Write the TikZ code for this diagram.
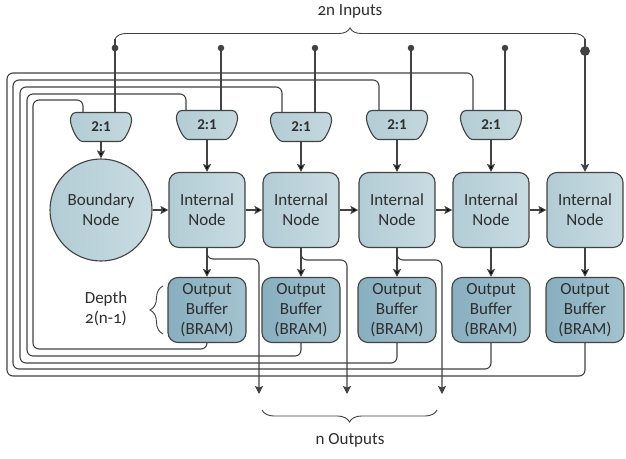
\documentclass[tikz,border=0pt]{standalone}
\usepackage{fontspec}
\setmainfont{Carlito}[Numbers=OldStyle]
\usetikzlibrary{arrows.meta,decorations.pathreplacing}

\pgfdeclarelayer{background}
\pgfsetlayers{background,main}

\definecolor{wiregray}{HTML}{424242}
\definecolor{textgray}{HTML}{2E2E2E}
\definecolor{nodedark}{HTML}{B2CCD5}
\definecolor{nodelight}{HTML}{C9DCE2}
\definecolor{bufdark}{HTML}{88AEBF}
\definecolor{buflight}{HTML}{A4C3CF}
\definecolor{muxdark}{HTML}{B3CCD5}
\definecolor{muxlight}{HTML}{C4D8DE}

\begin{document}
\begin{tikzpicture}[x=1pt,y=-1pt]

      \tikzset{wire/.style={draw=wiregray, line width=1.1pt},
               flow/.style={wire, -{Stealth[length=8pt,width=8pt,inset=1.5pt]}},
               backwire/.style={wire, rounded corners=6pt},
               internal/.style={draw=wiregray, line width=1.1pt, rounded corners=10pt,
                  left color=nodedark, right color=nodelight, text=textgray,
                  minimum width=76pt, minimum height=75pt, align=center,
                  font=\fontsize{17}{20}\selectfont},
               boundary/.style={internal, circle, minimum size=102pt, inner sep=0pt},
               buffer/.style={internal, left color=bufdark, right color=buflight,
                  minimum width=78pt, minimum height=65pt, inner sep=1pt},
               mux/.style={minimum width=60pt, minimum height=29pt, inner sep=0pt, text=textgray,
                  font=\fontsize{15}{17}\bfseries\addfontfeatures{Numbers=Lining}\selectfont},
               muxbody/.pic={\path[draw=wiregray, line width=1.1pt, left color=muxdark, right color=muxlight]
                  (-25,-14.5) -- (25,-14.5)
                  .. controls (29,-14.5) and (31,-10) .. (30.5,-6)
                  .. controls (30,0) and (25,11) .. (21,13.5)
                  .. controls (20,14.3) and (19,14.5) .. (17,14.5)
                  -- (-17,14.5)
                  .. controls (-19,14.5) and (-20,14.3) .. (-21,13.5)
                  .. controls (-25,11) and (-30,0) .. (-30.5,-6)
                  .. controls (-31,-10) and (-29,-14.5) .. (-25,-14.5) -- cycle;},
               indot/.style={circle, fill=wiregray, inner sep=0pt, minimum size=6.5pt},
               bigdot/.style={indot, minimum size=9.5pt},
               curly/.style={wire, line width=0.9pt, decorate, decoration={brace, amplitude=#1}},
               label/.style={text=textgray, align=center, font=\fontsize{17}{20}\selectfont}}

      \useasboundingbox (0,0) rectangle (626,458);

%% Multiplexers
      	\node[mux] (m0) at (101,127) {2:1};
      	\node[mux] (m1) at (207,125) {2:1};
      	\node[mux] (m2) at (301,127) {2:1};
      	\node[mux] (m3) at (397,125) {2:1};
      	\node[mux] (m4) at (491,125) {2:1};
      	\begin{pgfonlayer}{background}
      	  \foreach \m in {m0,m1,m2,m3,m4} \pic at (\m) {muxbody};
      	\end{pgfonlayer}
%% Compute nodes
      	\node[boundary] (bnd) at (101,210) {Boundary\\Node};
      	\node[internal] (n1) at (207,210) {Internal\\Node};
      	\node[internal] (n2) at (301,210) {Internal\\Node};
      	\node[internal] (n3) at (397,210) {Internal\\Node};
      	\node[internal] (n4) at (491,210) {Internal\\Node};
      	\node[internal] (n5) at (585,210) {Internal\\Node};
%% Output buffers
      	\node[buffer] (b1) at (207,310) {Output\\Buffer\\(BRAM)};
      	\node[buffer] (b2) at (301,310) {Output\\Buffer\\(BRAM)};
      	\node[buffer] (b3) at (397,310) {Output\\Buffer\\(BRAM)};
      	\node[buffer] (b4) at (491,310) {Output\\Buffer\\(BRAM)};
      	\node[buffer] (b5) at (585,310) {Output\\Buffer\\(BRAM)};
%% Inputs
      	\node[indot] (i1) at (115,48) {};
      	\node[indot] (i2) at (221,48) {};
      	\node[indot] (i3) at (315,48) {};
      	\node[indot] (i4) at (411,48) {};
      	\node[indot] (i5) at (505,48) {};
      	\node[bigdot] (i6) at (585,51) {};
      	\coordinate (ileft) at (115,39);
      	\coordinate (iright) at (585,39);
      	\node[label] (intext) at (350,11) {2n Inputs};
%% Outputs
      	\coordinate (t1) at (259,259);
      	\coordinate (t2) at (347,260);
      	\coordinate (t3) at (442,260);
      	\coordinate (o1) at (259,394);
      	\coordinate (o2) at (347,394);
      	\coordinate (o3) at (442,394);
      	\coordinate (oleft) at (262,410);
      	\coordinate (oright) at (437,410);
      	\node[label] (outtext) at (350,440) {n Outputs};
%% Depth note
      	\coordinate (dtop) at (163,286);
      	\coordinate (dbot) at (163,334);
      	\node[label] (depth) at (106,309) {Depth\\2(n-1)};
%% Feedback entry points
      	\coordinate (f0) at ([xshift=-18pt]m0.north);
      	\coordinate (f1) at ([xshift=-21pt]m1.north);
      	\coordinate (f2) at ([xshift=-19pt]m2.north);
      	\coordinate (f3) at ([xshift=-18pt]m3.north);
      	\coordinate (f4) at ([xshift=-18pt]m4.north);

%Chain
		\path [flow] (bnd) edge (n1);
		\path [flow] (n1) edge (n2);
		\path [flow] (n2) edge (n3);
		\path [flow] (n3) edge (n4);
		\path [flow] (n4) edge (n5);
%Mux to node
		\path [flow] (m0) edge (bnd);
		\path [flow] (m1) edge (n1);
		\path [flow] (m2) edge (n2);
		\path [flow] (m3) edge (n3);
		\path [flow] (m4) edge (n4);
%Node to buffer
		\path [flow] (n1) edge (b1);
		\path [flow] (n2) edge (b2);
		\path [flow] (n3) edge (b3);
		\path [flow] (n4) edge (b4);
		\path [flow] (n5) edge (b5);
%Inputs
		\draw [wire] (ileft) -- (i1 |- m0.north);
		\draw [wire] (i2) -- (i2 |- m1.north);
		\draw [wire] (i3) -- (i3 |- m2.north);
		\draw [wire] (i4) -- (i4 |- m3.north);
		\draw [wire] (i5) -- (i5 |- m4.north);
		\draw [flow] (iright) -- (n5);
		\node[indot] at (i1) {};
		\node[bigdot] at (i6) {};
		\draw [curly=11pt] (ileft) -- (iright);
%Outputs
		\draw [flow, rounded corners=6pt] (n1.south) |- (t1) -- (o1);
		\draw [flow, rounded corners=6pt] (n2.south) |- (t2) -- (o2);
		\draw [flow, rounded corners=6pt] (n3.south) |- (t3) -- (o3);
		\draw [curly=12pt] (oright) -- (oleft);
		\draw [curly=13pt] (dbot) -- (dtop);
%Feedback
		\draw [backwire] (b1.south) |- (33,349) |- (f0 |- 0,100) -- (f0);
		\draw [backwire] (b2.south) |- (27,356) |- (f1 |- 0,94) -- (f1);
		\draw [backwire] (b3.south) |- (20,363) |- (f2 |- 0,87) -- (f2);
		\draw [backwire] (b4.south) |- (13,369) |- (f3 |- 0,80) -- (f3);
		\draw [backwire] (b5.south) |- (7,376) |- (f4 |- 0,73) -- (f4);

	\end{tikzpicture}
\end{document}
